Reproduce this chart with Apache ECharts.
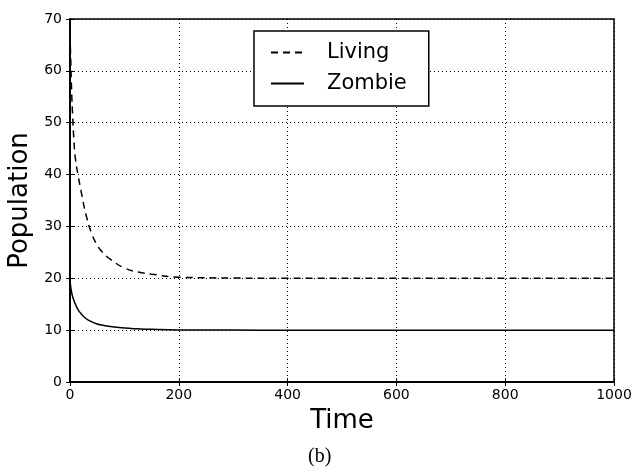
<!DOCTYPE html>
<html>
<head>
<meta charset="utf-8">
<script src="https://cdn.jsdelivr.net/npm/echarts@6/dist/echarts.min.js"></script>
<style>
  html, body { margin: 0; padding: 0; background: #fff; }
  #chart { width: 632px; height: 468px; }
</style>
</head>
<body>
<div id="chart"></div>
<script>
// time points (shared by both series)
const timePoints = [0, 1, 3, 5, 7, 10, 15, 20, 30, 40, 50, 60, 75, 100, 125, 150, 200, 300, 400, 600, 800, 1000];
const livingValues = [67, 63.5, 56, 51, 47, 43, 39.8, 37, 32, 28.6, 26.4, 25, 23.6, 22, 21.2, 20.8, 20.2, 20.05, 20, 20, 20, 20];
const zombieValues = [20, 18.6, 17.3, 16.4, 15.8, 15, 13.9, 13.2, 12.2, 11.6, 11.2, 10.95, 10.7, 10.4, 10.25, 10.15, 10.05, 10.01, 10, 10, 10, 10];
const seriesNames = ["Living", "Zombie"];

const toPairs = (vals) => timePoints.map((t, i) => [t, vals[i]]);

const chart = echarts.init(document.getElementById("chart"), null, { renderer: "canvas" });

const fontFamily = "DejaVu Sans";
const tickStyle = { show: true, inside: true, length: 4, lineStyle: { color: "#000", width: 1 } };
const gridLine = { show: true, lineStyle: { color: "#000", width: 1, type: [1, 3] } };

const option = {
  backgroundColor: "#fff",
  animation: false,
  grid: {
    left: 70, right: 18, top: 19, bottom: 86,
    outerBoundsMode: "none",
    show: true, borderColor: "#000", borderWidth: 1.5
  },
  legend: {
    left: 254,
    top: 31,
    orient: "vertical",
    padding: [11, 22, 12, 16],
    itemGap: 10,
    itemWidth: 33,
    itemHeight: 14,
    borderColor: "#000",
    borderWidth: 1.5,
    backgroundColor: "#fff",
    itemStyle: { opacity: 0 },
    data: seriesNames,
    textStyle: { fontFamily: fontFamily, fontSize: 21, color: "#000", padding: [0, 0, 0, 18] }
  },
  xAxis: [
    {
      type: "value",
      min: 0,
      max: 1000,
      interval: 200,
      name: "Time",
      nameLocation: "middle",
      nameGap: 26,
      nameTextStyle: { fontFamily: fontFamily, fontSize: 26, color: "#000" },
      axisLine: { show: true, lineStyle: { color: "#000", width: 1.5 } },
      axisTick: tickStyle,
      axisLabel: { fontFamily: fontFamily, fontSize: 14, color: "#000", margin: 6, formatter: (v) => String(v) },
      splitLine: gridLine
    },
    {
      type: "value",
      position: "top",
      min: 0,
      max: 1000,
      interval: 200,
      axisLine: { show: true, lineStyle: { color: "#000", width: 1.5 } },
      axisTick: tickStyle,
      axisLabel: { show: false },
      splitLine: { show: false }
    }
  ],
  yAxis: [
    {
      type: "value",
      min: 0,
      max: 70,
      interval: 10,
      name: "Population",
      nameLocation: "middle",
      nameGap: 36,
      nameTextStyle: { fontFamily: fontFamily, fontSize: 26, color: "#000" },
      axisLine: { show: true, lineStyle: { color: "#000", width: 1.5 } },
      axisTick: tickStyle,
      axisLabel: { fontFamily: fontFamily, fontSize: 14, color: "#000", margin: 8 },
      splitLine: gridLine
    },
    {
      type: "value",
      position: "right",
      min: 0,
      max: 70,
      interval: 10,
      axisLine: { show: true, lineStyle: { color: "#000", width: 1.5 } },
      axisTick: tickStyle,
      axisLabel: { show: false },
      splitLine: { show: false }
    }
  ],
  series: [
    {
      name: seriesNames[0],
      type: "line",
      symbol: "none",
      smooth: true,
      lineStyle: { color: "#000", width: 1.5, type: [7, 5] },
      itemStyle: { color: "#000" },
      data: toPairs(livingValues)
    },
    {
      name: seriesNames[1],
      type: "line",
      symbol: "none",
      smooth: true,
      lineStyle: { color: "#000", width: 1.5 },
      itemStyle: { color: "#000" },
      data: toPairs(zombieValues)
    }
  ],
  graphic: [
    {
      type: "text",
      left: 308,
      top: 447,
      style: { text: "(b)", font: "20px 'Liberation Serif'", fill: "#000" }
    }
  ]
};

chart.setOption(option);
</script>
</body>
</html>
